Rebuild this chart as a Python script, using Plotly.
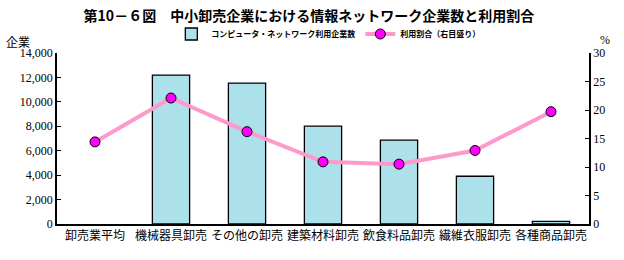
import plotly.graph_objects as go

categories = ["卸売業平均", "機械器具卸売", "その他の卸売", "建築材料卸売", "飲食料品卸売", "繊維衣服卸売", "各種商品卸売"]
companies = [None, 12190, 11530, 8010, 6860, 3910, 220]
usage_rate = [14.4, 22.1, 16.2, 10.9, 10.5, 12.9, 19.7]
left_ticks = [0, 2000, 4000, 6000, 8000, 10000, 12000, 14000]
right_ticks = [0, 5, 10, 15, 20, 25, 30]

jp = "Noto Sans CJK JP"

fig = go.Figure()
fig.add_trace(go.Bar(
    x=categories, y=companies, name="<b>コンピュータ・ネットワーク利用企業数</b>",
    marker=dict(color="#ace0ea", line=dict(color="black", width=1.3)),
    width=0.49,
))
fig.add_trace(go.Scatter(
    x=categories, y=usage_rate, name="<b>利用割合（右目盛り）</b>", yaxis="y2",
    mode="lines+markers",
    line=dict(color="#ff99cc", width=4),
    marker=dict(color="#ff00ff", size=10, line=dict(color="black", width=1)),
))

fig.update_layout(
    width=624, height=260,
    margin=dict(l=57, r=35, t=53, b=36),
    paper_bgcolor="white", plot_bgcolor="white",
    showlegend=True,
    title=dict(text="<b>第10－６図　中小卸売企業における情報ネットワーク企業数と利用割合</b>",
               x=0.495, xanchor="center", y=1 - 16 / 260, yanchor="middle",
               font=dict(family=jp, size=14, color="black")),
    legend=dict(orientation="h", x=0.51, xanchor="center", y=1 + (224 - 34) / 171 - 1, yanchor="middle",
                font=dict(family=jp, size=8, color="black"),
                itemwidth=30, tracegroupgap=0, bgcolor="rgba(0,0,0,0)"),
    xaxis=dict(showline=True, linecolor="black", linewidth=1.5, ticks="",
               tickfont=dict(family=jp, size=12, color="black"), showgrid=False),
    yaxis=dict(range=[0, 14000], tickvals=left_ticks, tickformat=",", showgrid=False,
               showline=True, linecolor="black", linewidth=1.5, ticks="inside", ticklen=4,
               tickcolor="black", zeroline=False,
               tickfont=dict(family="Liberation Serif", size=12, color="black")),
    yaxis2=dict(range=[0, 30], tickvals=right_ticks, overlaying="y", side="right", showgrid=False,
                showline=True, linecolor="black", linewidth=1.5, ticks="inside", ticklen=4,
                tickcolor="black", zeroline=False,
                tickfont=dict(family="Liberation Serif", size=12, color="black")),
    bargap=0.5,
)
fig.add_annotation(text="企業", xref="paper", yref="paper", x=(4 - 57) / 532, y=(224 - 41) / 171,
                   xanchor="left", yanchor="middle", showarrow=False,
                   font=dict(family=jp, size=12, color="black"))
fig.add_annotation(text="%", xref="paper", yref="paper", x=(605 - 57) / 532, y=(224 - 40) / 171,
                   xanchor="center", yanchor="middle", showarrow=False,
                   font=dict(family="Liberation Serif", size=12, color="black"))

fig.write_html("out.html")
